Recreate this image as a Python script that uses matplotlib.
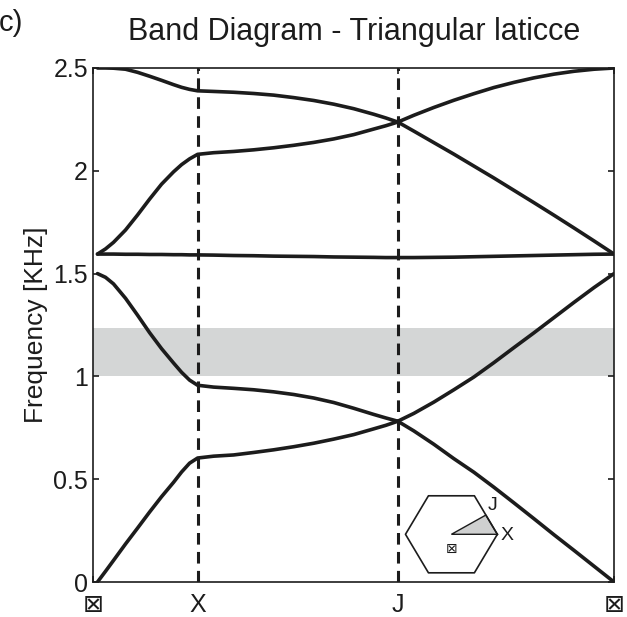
import numpy as np
import matplotlib
matplotlib.use("Agg")
import matplotlib.pyplot as plt

plt.rcParams['font.family'] = ['Liberation Sans', 'DejaVu Sans']

# path index along Γ - X - J - Γ
k = [1, 3, 5, 8, 11, 14, 17, 20, 22, 24, 26,
     30, 35, 40, 45, 50, 55, 60, 65, 70, 73, 76,
     80, 85, 90, 95, 100, 105, 110, 115, 120, 125, 130]

band1 = [0.0, 0.052, 0.105, 0.185, 0.262, 0.34, 0.415, 0.485, 0.535, 0.578, 0.603,
         0.612, 0.618, 0.63, 0.643, 0.658, 0.675, 0.695, 0.717, 0.745, 0.762, 0.782,
         0.735, 0.67, 0.60, 0.534, 0.461, 0.385, 0.308, 0.23, 0.154, 0.077, 0.0]
band2 = [1.50, 1.482, 1.45, 1.38, 1.298, 1.213, 1.135, 1.065, 1.02, 0.982, 0.957,
         0.948, 0.942, 0.935, 0.925, 0.912, 0.895, 0.873, 0.845, 0.815, 0.798, 0.782,
         0.82, 0.875, 0.935, 0.997, 1.067, 1.14, 1.212, 1.286, 1.36, 1.432, 1.50]
band3 = [1.595, 1.595, 1.595, 1.594, 1.594, 1.593, 1.593, 1.592, 1.592, 1.591, 1.591,
         1.590, 1.588, 1.587, 1.585, 1.584, 1.583, 1.581, 1.580, 1.579, 1.578, 1.578,
         1.578, 1.579, 1.580, 1.582, 1.584, 1.586, 1.588, 1.590, 1.592, 1.594, 1.595]
band4 = [1.595, 1.62, 1.652, 1.712, 1.785, 1.862, 1.935, 1.995, 2.03, 2.058, 2.08,
         2.088, 2.094, 2.102, 2.112, 2.124, 2.138, 2.155, 2.176, 2.203, 2.219, 2.237,
         2.193, 2.137, 2.081, 2.023, 1.965, 1.905, 1.845, 1.784, 1.722, 1.659, 1.595]
band5 = [2.50, 2.50, 2.499, 2.494, 2.479, 2.46, 2.44, 2.419, 2.406, 2.396, 2.389,
         2.386, 2.382, 2.376, 2.368, 2.356, 2.342, 2.324, 2.302, 2.275, 2.257, 2.237,
         2.27, 2.308, 2.343, 2.375, 2.405, 2.43, 2.452, 2.47, 2.484, 2.494, 2.50]
bands = [band1, band2, band3, band4, band5]

sym_pos = [0, 26, 76, 130]
sym_labels = ['\u22a0', 'X', 'J', '\u22a0']
gap = [1.0, 1.236]

fig = plt.figure(figsize=(6.27, 6.17), dpi=100)
ax = fig.add_axes([0.1491, 0.0567, 0.8302, 0.8331])

ax.axhspan(gap[0], gap[1], color='#d4d6d6', lw=0, zorder=0)
for b in bands:
    ax.plot(k, b, color='#1c1c1c', lw=2.6, solid_capstyle='round',
            solid_joinstyle='round', zorder=3)
for p in sym_pos[1:3]:
    ax.axvline(p, color='#1c1c1c', lw=2.2, linestyle=(0, (3.8, 2.4)), zorder=2)

ax.set_xlim(0, 130)
ax.set_ylim(0, 2.5)
ax.set_xticks(sym_pos)
ax.set_xticklabels(sym_labels)
ax.set_yticks([0, 0.5, 1, 1.5, 2, 2.5])
ax.set_yticklabels(['0', '0.5', '1', '1.5', '2', '2.5'])
ax.tick_params(direction='in', length=4, width=1.2, labelsize=18, colors='#1c1c1c',
               top=True, right=True)
ax.tick_params(axis='x', pad=8)
ax.tick_params(axis='y', pad=4)
for s in ax.spines.values():
    s.set_linewidth(1.2)
    s.set_color('#1c1c1c')

ax.set_ylabel('Frequency [KHz]', fontsize=19, color='#1c1c1c')
ax.yaxis.set_label_coords(-0.088, 0.5)
fig.text(354 / 627, 1 - 32 / 617, 'Band Diagram - Triangular laticce', fontsize=22,
         ha='center', va='center', color='#1c1c1c')
fig.text(-0.002, 1 - 23 / 617, 'c)', fontsize=21, ha='left', va='center', color='#1c1c1c')

# Brillouin zone sketch
ins = ax.inset_axes([0.5804, 0.0039, 0.2599, 0.1848])
ins.set_xlim(-1.215, 1.73)
ins.set_ylim(-0.997, 1.075)
ins.axis('off')
ang = np.deg2rad(np.arange(0, 420, 60))
ins.plot(np.cos(ang), np.sin(ang) * 0.97, color='#1c1c1c', lw=1.2)
tri_x = [0, np.cos(0), 0.5 * (np.cos(0) + np.cos(np.pi / 3))]
tri_y = [0, 0, 0.5 * 0.97 * np.sin(np.pi / 3)]
ins.fill(tri_x, tri_y, facecolor='#cfd0d0', edgecolor='#1c1c1c', lw=1.0)
ins.text(0.89, 0.62, 'J', fontsize=14, ha='center', va='center', color='#1c1c1c')
ins.text(1.22, -0.02, 'X', fontsize=14, ha='center', va='center', color='#1c1c1c')
ins.text(0.0, -0.31, '\u22a0', fontsize=10, ha='center', va='center', color='#1c1c1c')

fig.savefig('out.png', dpi=100)
